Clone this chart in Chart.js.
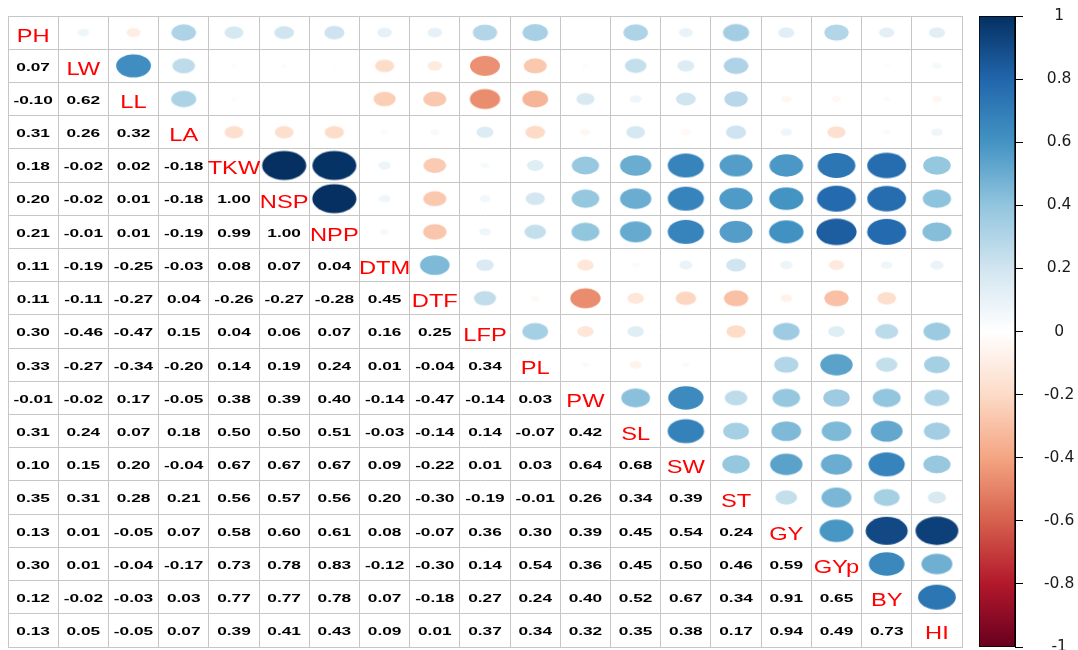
<!DOCTYPE html>
<html>
<head>
<meta charset="utf-8">
<title>Correlation matrix</title>
<script src="https://cdn.jsdelivr.net/npm/chart.js@4.4.1/dist/chart.umd.min.js"></script>
<style>
  html, body { margin: 0; padding: 0; background: #ffffff; }
  #wrap { position: relative; width: 1078px; height: 650px; overflow: hidden; }
  #matrix { position: absolute; left: 0; top: 0; }
  #legend { position: absolute; left: 962px; top: 0; }
</style>
</head>
<body>
<div id="wrap">
  <canvas id="matrix" width="970" height="650"></canvas>
  <canvas id="legend" width="116" height="650"></canvas>
</div>
<script>
// Trait names, in matrix order
const traits = ['PH', 'LW', 'LL', 'LA', 'TKW', 'NSP', 'NPP', 'DTM', 'DTF', 'LFP',
                'PL', 'PW', 'SL', 'SW', 'ST', 'GY', 'GYp', 'BY', 'HI'];

// Lower-triangle correlations, one row per trait (columns PH ... previous trait)
const rLW  = [0.07];
const rLL  = [-0.10, 0.62];
const rLA  = [0.31, 0.26, 0.32];
const rTKW = [0.18, -0.02, 0.02, -0.18];
const rNSP = [0.20, -0.02, 0.01, -0.18, 1.00];
const rNPP = [0.21, -0.01, 0.01, -0.19, 0.99, 1.00];
const rDTM = [0.11, -0.19, -0.25, -0.03, 0.08, 0.07, 0.04];
const rDTF = [0.11, -0.11, -0.27, 0.04, -0.26, -0.27, -0.28, 0.45];
const rLFP = [0.30, -0.46, -0.47, 0.15, 0.04, 0.06, 0.07, 0.16, 0.25];
const rPL  = [0.33, -0.27, -0.34, -0.20, 0.14, 0.19, 0.24, 0.01, -0.04, 0.34];
const rPW  = [-0.01, -0.02, 0.17, -0.05, 0.38, 0.39, 0.40, -0.14, -0.47, -0.14, 0.03];
const rSL  = [0.31, 0.24, 0.07, 0.18, 0.50, 0.50, 0.51, -0.03, -0.14, 0.14, -0.07, 0.42];
const rSW  = [0.10, 0.15, 0.20, -0.04, 0.67, 0.67, 0.67, 0.09, -0.22, 0.01, 0.03, 0.64, 0.68];
const rST  = [0.35, 0.31, 0.28, 0.21, 0.56, 0.57, 0.56, 0.20, -0.30, -0.19, -0.01, 0.26, 0.34, 0.39];
const rGY  = [0.13, 0.01, -0.05, 0.07, 0.58, 0.60, 0.61, 0.08, -0.07, 0.36, 0.30, 0.39, 0.45, 0.54, 0.24];
const rGYp = [0.30, 0.01, -0.04, -0.17, 0.73, 0.78, 0.83, -0.12, -0.30, 0.14, 0.54, 0.36, 0.45, 0.50, 0.46, 0.59];
const rBY  = [0.12, -0.02, -0.03, 0.03, 0.77, 0.77, 0.78, 0.07, -0.18, 0.27, 0.24, 0.40, 0.52, 0.67, 0.34, 0.91, 0.65];
const rHI  = [0.13, 0.05, -0.05, 0.07, 0.39, 0.41, 0.43, 0.09, 0.01, 0.37, 0.34, 0.32, 0.35, 0.38, 0.17, 0.94, 0.49, 0.73];

// Colour bar tick values
const barTicks = [1, 0.8, 0.6, 0.4, 0.2, 0, -0.2, -0.4, -0.6, -0.8, -1];

// Red-white-blue diverging palette, from -1 to +1
const ramp = ['#67001F', '#B2182B', '#D6604D', '#F4A582', '#FDDBC7', '#FFFFFF',
              '#D1E5F0', '#92C5DE', '#4393C3', '#2166AC', '#053061'];

const lowerRows = [[], rLW, rLL, rLA, rTKW, rNSP, rNPP, rDTM, rDTF, rLFP,
                   rPL, rPW, rSL, rSW, rST, rGY, rGYp, rBY, rHI];
const n = traits.length;

// Symmetric matrix built from the lower-triangle rows
function corr(i, j) {
  if (i === j) return 1;
  return i > j ? lowerRows[i][j] : lowerRows[j][i];
}

function hexToRgb(h) {
  return [parseInt(h.slice(1, 3), 16), parseInt(h.slice(3, 5), 16), parseInt(h.slice(5, 7), 16)];
}
function corrColor(v) {
  const t = (v + 1) / 2 * (ramp.length - 1);
  const k = Math.min(Math.max(Math.floor(t), 0), ramp.length - 2);
  const f = t - k;
  const a = hexToRgb(ramp[k]), b = hexToRgb(ramp[k + 1]);
  const c = a.map((ai, q) => Math.round(ai + (b[q] - ai) * f));
  return `rgb(${c[0]},${c[1]},${c[2]})`;
}

// Upper triangle: one point per pair, drawn as an ellipse scaled by |r|
const upperCells = [];
for (let i = 0; i < n; i++) {
  for (let j = i + 1; j < n; j++) {
    upperCells.push({ x: j + 0.5, y: i + 0.5, v: corr(i, j) });
  }
}

function ellipseSprite(v, cw, ch) {
  const s = 0.44 * Math.sqrt(Math.abs(v));
  const rx = s * cw, ry = s * ch;
  const w = Math.max(2, Math.ceil(2 * rx) + 2);
  const h = Math.max(2, Math.ceil(2 * ry) + 2);
  const c = document.createElement('canvas');
  c.width = w; c.height = h;
  const g = c.getContext('2d');
  if (rx > 0.05 && ry > 0.05) {
    g.fillStyle = corrColor(v);
    g.beginPath();
    g.ellipse(w / 2, h / 2, rx, ry, 0, 0, Math.PI * 2);
    g.fill();
  }
  return c;
}

function drawStretched(ctx, text, cx, baseY, font, color, sx) {
  ctx.save();
  ctx.translate(cx, baseY);
  ctx.scale(sx, 1);
  ctx.font = font;
  ctx.fillStyle = color;
  ctx.textAlign = 'center';
  ctx.textBaseline = 'alphabetic';
  ctx.fillText(text, 0, 0);
  ctx.restore();
}

// Numbers below the diagonal, trait names on it
const cellTextPlugin = {
  id: 'cellText',
  afterDatasetsDraw(chart) {
    const { ctx } = chart;
    const xs = chart.scales.x, ys = chart.scales.y;
    for (let i = 0; i < n; i++) {
      for (let j = 0; j <= i; j++) {
        const cx = xs.getPixelForValue(j + 0.5);
        const cy = ys.getPixelForValue(i + 0.5);
        if (i === j) {
          drawStretched(ctx, traits[i], cx, cy + 9, '18.5px "Liberation Sans", Arial, sans-serif', '#FF0000', 1.28);
        } else {
          drawStretched(ctx, corr(i, j).toFixed(2), cx, cy + 4.8, 'bold 11.5px "Liberation Sans", Arial, sans-serif', '#000000', 1.5);
        }
      }
    }
  }
};

const gridLine = { color: '#c6c6c6', lineWidth: 1, drawTicks: false };
const unitTicks = (s) => { s.ticks = Array.from({ length: n + 1 }, (_, k) => ({ value: k })); };

new Chart(document.getElementById('matrix'), {
  type: 'scatter',
  data: {
    datasets: [{
      data: upperCells,
      pointRadius: 1,
      pointHoverRadius: 1,
      pointBorderWidth: 0,
      pointStyle: (c) => {
        if (!c.raw) return 'circle';
        const xs = c.chart.scales.x, ys = c.chart.scales.y;
        const cw = Math.abs(xs.getPixelForValue(1) - xs.getPixelForValue(0));
        const ch = Math.abs(ys.getPixelForValue(1) - ys.getPixelForValue(0));
        return ellipseSprite(c.raw.v, cw, ch);
      }
    }]
  },
  options: {
    responsive: false,
    animation: false,
    events: [],
    layout: { padding: { left: 8, top: 16, right: 8, bottom: 3 } },
    plugins: { legend: { display: false }, tooltip: { enabled: false } },
    scales: {
      x: {
        type: 'linear', min: 0, max: n,
        afterBuildTicks: unitTicks,
        ticks: { display: false },
        grid: gridLine,
        border: { color: '#c6c6c6' }
      },
      y: {
        type: 'linear', min: 0, max: n, reverse: true,
        afterBuildTicks: unitTicks,
        ticks: { display: false },
        grid: gridLine,
        border: { color: '#c6c6c6' }
      }
    }
  },
  plugins: [cellTextPlugin]
});

// Colour key
new Chart(document.getElementById('legend'), {
  type: 'bar',
  data: {
    labels: [''],
    datasets: [{
      data: [[-1, 1]],
      backgroundColor: (c) => {
        const area = c.chart.chartArea;
        if (!area) return '#ffffff';
        const g = c.chart.ctx.createLinearGradient(0, area.bottom, 0, area.top);
        ramp.forEach((col, k) => g.addColorStop(k / (ramp.length - 1), col));
        return g;
      },
      borderColor: '#000000',
      borderWidth: 1,
      borderSkipped: false,
      barPercentage: 1,
      categoryPercentage: 1
    }]
  },
  options: {
    responsive: false,
    animation: false,
    events: [],
    layout: { padding: { left: 17, top: 16, right: 0, bottom: 3 } },
    plugins: { legend: { display: false }, tooltip: { enabled: false } },
    scales: {
      x: { display: false },
      y: {
        position: 'right', min: -1, max: 1,
        afterBuildTicks: (s) => { s.ticks = barTicks.map(v => ({ value: v })); },
        afterFit: (s) => { s.width = 63; s.paddingTop = 0; s.paddingBottom = 0; },
        grid: { drawOnChartArea: false, tickLength: 8, color: '#000000', lineWidth: 1 },
        border: { display: true, color: '#000000' },
        ticks: {
          padding: 21,
          crossAlign: 'center',
          color: '#1a1a1a',
          font: { family: '"DejaVu Sans", sans-serif', size: 15.5 },
          callback: (v) => String(Number(Number(v).toFixed(1)))
        }
      }
    }
  }
});
</script>
</body>
</html>
